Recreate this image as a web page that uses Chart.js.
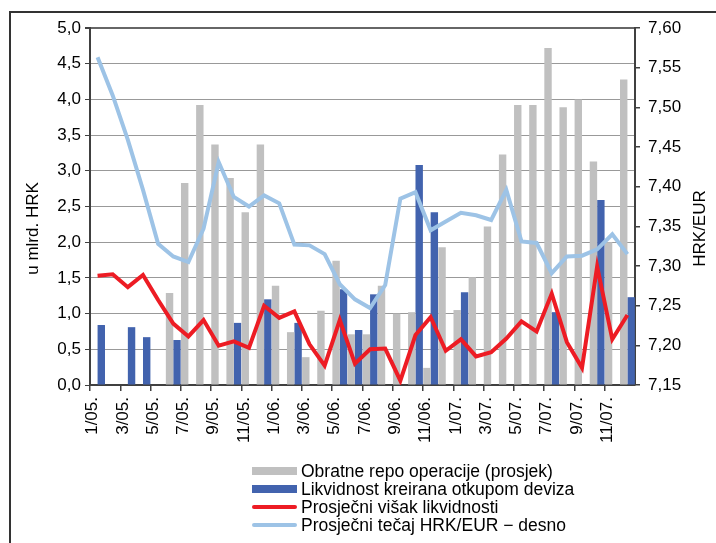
<!DOCTYPE html>
<html lang="hr">
<head>
<meta charset="UTF-8">
<title>Likvidnost i tečaj HRK/EUR</title>
<script src="https://cdn.jsdelivr.net/npm/chart.js"></script>
<style>
    body { margin: 0; background: #fff; font-family: "Liberation Sans", Arial, sans-serif; }
    .wrap { position: relative; width: 716px; height: 543px; overflow: hidden; }
    .frame { position: absolute; left: 9px; top: 11px; width: 740px; height: 600px; border: 2px solid #333; box-sizing: border-box; }
    canvas { position: absolute; left: 0; top: 0; }
    #legend { position: absolute; left: 252px; top: 462px; font-size: 17.5px; color: #000; }
    #legend .row { display: flex; align-items: center; height: 18px; white-space: nowrap; }
    #legend .sw { width: 45px; margin-right: 4px; flex: none; }
</style>
</head>
<body>
<div class="wrap">
    <div class="frame"></div>
    <canvas id="chart" width="716" height="543"></canvas>
    <div id="legend"></div>
</div>
<script>
// mjeseci 1/05. - 12/07.
const months = [];
for (const y of ['05', '06', '07']) {
    for (let m = 1; m <= 12; m++) months.push(m + '/' + y + '.');
}

// u mlrd. HRK
const repo = [null, null, null, null, null, 1.29, 2.83, 3.92, 3.37, 2.90, 2.42, 3.37,
              1.39, 0.74, 0.39, 1.04, 1.74, 0.71, 0.71, 1.39, 1.00, 1.02, 0.24, 1.93,
              1.05, 1.51, 2.22, 3.23, 3.92, 3.92, 4.72, 3.89, 4.00, 3.13, 2.00, 4.28];
const otkup = [0.84, null, 0.81, 0.67, null, 0.63, null, null, null, 0.87, null, 1.20,
               null, 0.87, null, null, 1.34, 0.77, 1.27, null, null, 3.08, 2.42, null,
               1.30, null, null, null, null, null, 1.02, null, null, 2.59, null, 1.23];
const visak = [1.53, 1.55, 1.37, 1.54, 1.19, 0.86, 0.68, 0.91, 0.55, 0.61, 0.52, 1.11,
               0.94, 1.03, 0.57, 0.27, 0.91, 0.30, 0.50, 0.51, 0.06, 0.70, 0.95, 0.48,
               0.64, 0.40, 0.46, 0.65, 0.89, 0.75, 1.28, 0.60, 0.24, 1.66, 0.64, 0.98];
// HRK/EUR (desna os)
const tecaj = [7.563, 7.515, 7.459, 7.396, 7.328, 7.312, 7.305, 7.347, 7.431, 7.387, 7.375, 7.389,
               7.379, 7.327, 7.326, 7.315, 7.277, 7.258, 7.247, 7.276, 7.385, 7.393, 7.345, 7.356,
               7.367, 7.364, 7.358, 7.396, 7.331, 7.329, 7.291, 7.312, 7.313, 7.321, 7.340, 7.315];

const axisTitles = ['u mlrd. HRK', 'HRK/EUR'];

const FONT = "'Liberation Sans', Arial, sans-serif";
const fmt = (v, d) => v.toFixed(d).replace('.', ',');

// oba naslova osi citaju se odozdo prema gore
const titlePlugin = {
    id: 'axisTitles',
    afterDraw(chart) {
        const { ctx, chartArea } = chart;
        const cy = (chartArea.top + chartArea.bottom) / 2 + 22;
        ctx.save();
        ctx.font = '17px ' + FONT;
        ctx.fillStyle = '#000';
        ctx.textAlign = 'center';
        ctx.textBaseline = 'middle';
        [[33, axisTitles[0]], [chart.width - 16, axisTitles[1]]].forEach(([x, t]) => {
            ctx.save();
            ctx.translate(x, cy);
            ctx.rotate(-Math.PI / 2);
            ctx.fillText(t, 0, 0);
            ctx.restore();
        });
        ctx.restore();
    }
};

const chart = new Chart(document.getElementById('chart'), {
    data: {
        labels: months,
        datasets: [
            { type: 'line', label: 'Prosječni višak likvidnosti', data: visak, yAxisID: 'y',
              borderColor: '#ED1C24', borderWidth: 4, pointRadius: 0, tension: 0, order: 0 },
            { type: 'line', label: 'Prosječni tečaj HRK/EUR − desno', data: tecaj, yAxisID: 'y1',
              borderColor: '#9DC3E6', borderWidth: 4, pointRadius: 0, tension: 0, order: 1 },
            { type: 'bar', label: 'Obratne repo operacije (prosjek)', data: repo, yAxisID: 'y',
              backgroundColor: '#C0C0C0', categoryPercentage: 0.98, barPercentage: 1, order: 2 },
            { type: 'bar', label: 'Likvidnost kreirana otkupom deviza', data: otkup, yAxisID: 'y',
              backgroundColor: '#4263AE', categoryPercentage: 0.98, barPercentage: 1, order: 3 }
        ]
    },
    options: {
        responsive: false,
        animation: false,
        layout: { padding: { left: 10, top: 28, right: 0, bottom: 0 } },
        plugins: { legend: { display: false }, tooltip: { enabled: false } },
        scales: {
            x: {
                offset: true,
                afterFit: s => { s.height = 158; },
                grid: {
                    offset: true, drawOnChartArea: false, tickLength: 6, lineWidth: 1.5,
                    color: c => (c.index % 2 === 0 ? '#404040' : 'transparent')
                },
                border: { color: '#404040', width: 2 },
                ticks: {
                    autoSkip: false, minRotation: 90, maxRotation: 90, padding: 6, labelOffset: -5,
                    color: '#000', font: { family: FONT, size: 17 },
                    callback: function (v, i) { return i % 2 === 0 ? this.getLabelForValue(v) : ''; }
                }
            },
            y: {
                position: 'left', min: 0, max: 5,
                afterFit: s => { s.width = 80; },
                grid: {
                    color: c => (c.tick && c.tick.value === 5 ? '#666' : '#999'),
                    lineWidth: c => (c.tick && c.tick.value === 5 ? 2 : 1),
                    tickColor: '#404040', tickLength: 5
                },
                border: { color: '#404040', width: 2 },
                ticks: { stepSize: 0.5, padding: 4, color: '#000', font: { family: FONT, size: 17 },
                         callback: v => fmt(v, 1) }
            },
            y1: {
                position: 'right', min: 7.15, max: 7.60,
                afterFit: s => { s.width = 81; },
                grid: { drawOnChartArea: false, color: '#404040', tickLength: 5, lineWidth: 1.5 },
                border: { color: '#404040', width: 2 },
                ticks: { stepSize: 0.05, padding: 8, color: '#000', font: { family: FONT, size: 17 },
                         callback: v => fmt(v, 2) }
            }
        }
    },
    plugins: [titlePlugin]
});

// legenda jedna ispod druge, kao u originalu
const legend = document.getElementById('legend');
const legendOrder = [2, 3, 0, 1];
legendOrder.forEach(i => {
    const ds = chart.data.datasets[i];
    const row = document.createElement('div');
    row.className = 'row';
    const sw = document.createElement('span');
    sw.className = 'sw';
    if (ds.type === 'bar') {
        sw.style.height = '8px';
        sw.style.background = ds.backgroundColor;
    } else {
        sw.style.height = '4px';
        sw.style.borderRadius = '2px';
        sw.style.background = ds.borderColor;
    }
    const txt = document.createElement('span');
    txt.textContent = ds.label;
    row.appendChild(sw);
    row.appendChild(txt);
    legend.appendChild(row);
});
</script>
</body>
</html>
